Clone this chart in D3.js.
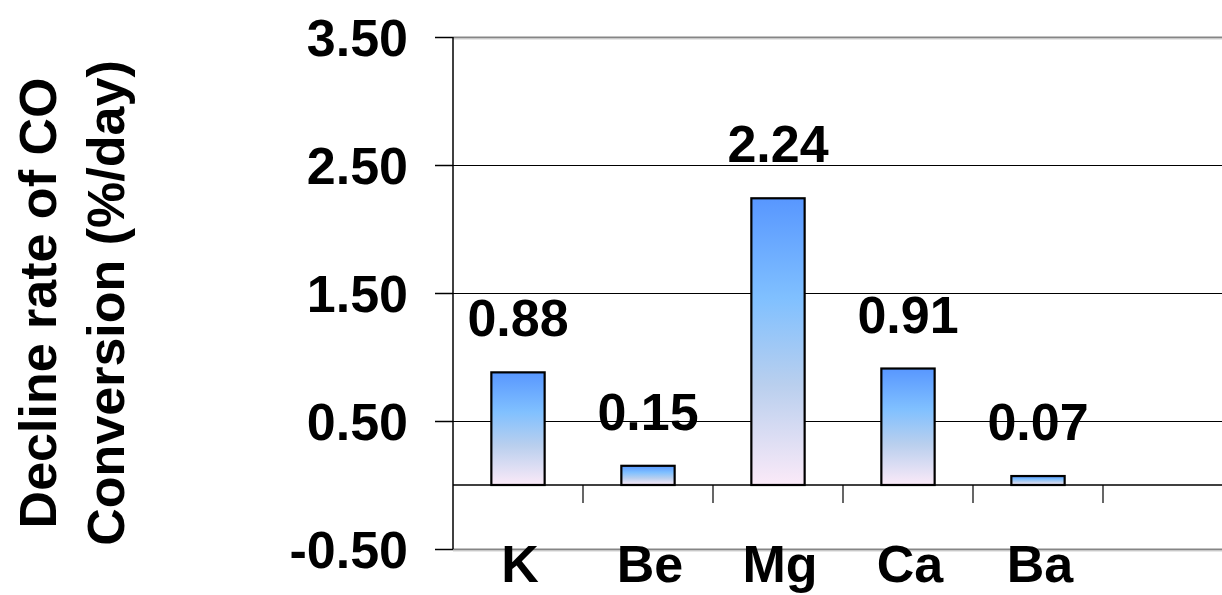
<!DOCTYPE html>
<html>
<head>
<meta charset="utf-8">
<script src="https://cdn.jsdelivr.net/npm/d3@7/dist/d3.min.js"></script>
<style>
  html, body { margin: 0; padding: 0; background: #fff; }
  svg { display: block; font-family: "Liberation Sans", Arial, Helvetica, sans-serif; font-weight: bold; }
</style>
</head>
<body>
<svg id="chart" width="1222" height="595"></svg>
<script>
// Decline rate of CO conversion for each promoter
const categories = ["K", "Be", "Mg", "Ca", "Ba"];
const declineRates = [0.88, 0.15, 2.24, 0.91, 0.07];
const yTicks = [-0.5, 0.5, 1.5, 2.5, 3.5];
const yTitleLines = ["Decline rate of CO", "Conversion (%/day)"];

const W = 1222, H = 595;
const plotLeft = 453, plotTop = 37, plotBottom = 549;
const slot = 130;
const fontSize = 52;

const svg = d3.select("#chart");

const x = d3.scaleBand()
  .domain(categories)
  .range([plotLeft, plotLeft + slot * categories.length])
  .padding(0);

const y = d3.scaleLinear()
  .domain([-0.5, 3.5])
  .range([plotBottom, plotTop]);

const barW = x.bandwidth() * 0.41;

// bar fill: blue at top fading to a pale pink at the base
const defs = svg.append("defs");
const grad = defs.append("linearGradient")
  .attr("id", "barFill")
  .attr("x1", 0).attr("y1", 0).attr("x2", 0).attr("y2", 1);
[[0, "#5897ff"], [0.35, "#80c0ff"], [0.65, "#b9cfee"], [1, "#fbeaf8"]].forEach(([o, c]) => {
  grad.append("stop").attr("offset", o).attr("stop-color", c);
});

// interior gridlines
const grid = svg.append("g");
yTicks.filter(t => t > -0.5 && t < 3.5).forEach(t => {
  grid.append("line")
    .attr("x1", plotLeft).attr("x2", W)
    .attr("y1", Math.round(y(t)) + 0.5).attr("y2", Math.round(y(t)) + 0.5)
    .attr("stroke", "#000").attr("stroke-width", 1.2);
});

// plot-area top and bottom borders (grey)
[3.5, -0.5].forEach(t => {
  grid.append("line")
    .attr("x1", plotLeft).attr("x2", W)
    .attr("y1", y(t) + 0.5).attr("y2", y(t) + 0.5)
    .attr("stroke", "#858585").attr("stroke-width", 2);
  grid.append("line")
    .attr("x1", plotLeft).attr("x2", W)
    .attr("y1", y(t) + 2).attr("y2", y(t) + 2)
    .attr("stroke", "#cfcfcf").attr("stroke-width", 1);
});

// zero line
svg.append("line")
  .attr("x1", plotLeft).attr("x2", W)
  .attr("y1", y(0)).attr("y2", y(0))
  .attr("stroke", "#000").attr("stroke-width", 1.5);

// y axis
const yAxis = d3.axisLeft(y)
  .tickValues(yTicks)
  .tickSize(18)
  .tickPadding(27)
  .tickFormat(d => d.toFixed(2));

const gy = svg.append("g")
  .attr("transform", `translate(${plotLeft},0)`)
  .call(yAxis);
gy.select(".domain").remove();
gy.selectAll(".tick line").attr("stroke", "#000").attr("stroke-width", 1.5);
gy.selectAll(".tick text")
  .attr("font-size", fontSize)
  .attr("font-weight", "bold")
  .attr("font-family", "'Liberation Sans', Arial, sans-serif")
  .attr("fill", "#000")
  .attr("dy", "0.36em");

svg.append("line")
  .attr("x1", plotLeft).attr("x2", plotLeft)
  .attr("y1", plotTop).attr("y2", plotBottom)
  .attr("stroke", "#000").attr("stroke-width", 1.5);

// category divider ticks hanging from the zero line
const dividers = categories.map(c => x(c) + x.bandwidth());
svg.append("g").selectAll("line")
  .data(dividers)
  .join("line")
  .attr("x1", d => d).attr("x2", d => d)
  .attr("y1", y(0)).attr("y2", y(0) + 18)
  .attr("stroke", "#000").attr("stroke-width", 1.2);

// bars
const data = categories.map((c, i) => ({ c, v: declineRates[i] }));
svg.append("g").selectAll("rect")
  .data(data)
  .join("rect")
  .attr("x", d => x(d.c) + (x.bandwidth() - barW) / 2)
  .attr("width", barW)
  .attr("y", d => y(Math.max(0, d.v)))
  .attr("height", d => Math.abs(y(d.v) - y(0)))
  .attr("fill", "url(#barFill)")
  .attr("stroke", "#000")
  .attr("stroke-width", 2.2);

// value labels
svg.append("g").selectAll("text")
  .data(data)
  .join("text")
  .attr("x", d => x(d.c) + x.bandwidth() / 2)
  .attr("y", d => y(d.v) - 36)
  .attr("text-anchor", "middle")
  .attr("font-size", fontSize)
  .attr("fill", "#000")
  .text(d => d.v.toFixed(2));

// category labels
svg.append("g").selectAll("text")
  .data(categories)
  .join("text")
  .attr("x", d => x(d) + x.bandwidth() / 2 + 2)
  .attr("y", 582)
  .attr("text-anchor", "middle")
  .attr("font-size", fontSize)
  .attr("fill", "#000")
  .text(d => d);

// y axis title, two lines
const title = svg.append("text")
  .attr("transform", "translate(56,303) rotate(-90)")
  .attr("text-anchor", "middle")
  .attr("font-size", 52)
  .attr("fill", "#000");
yTitleLines.forEach((line, i) => {
  title.append("tspan")
    .attr("x", 0)
    .attr("dy", i === 0 ? 0 : 68)
    .text(line);
});
</script>
</body>
</html>
